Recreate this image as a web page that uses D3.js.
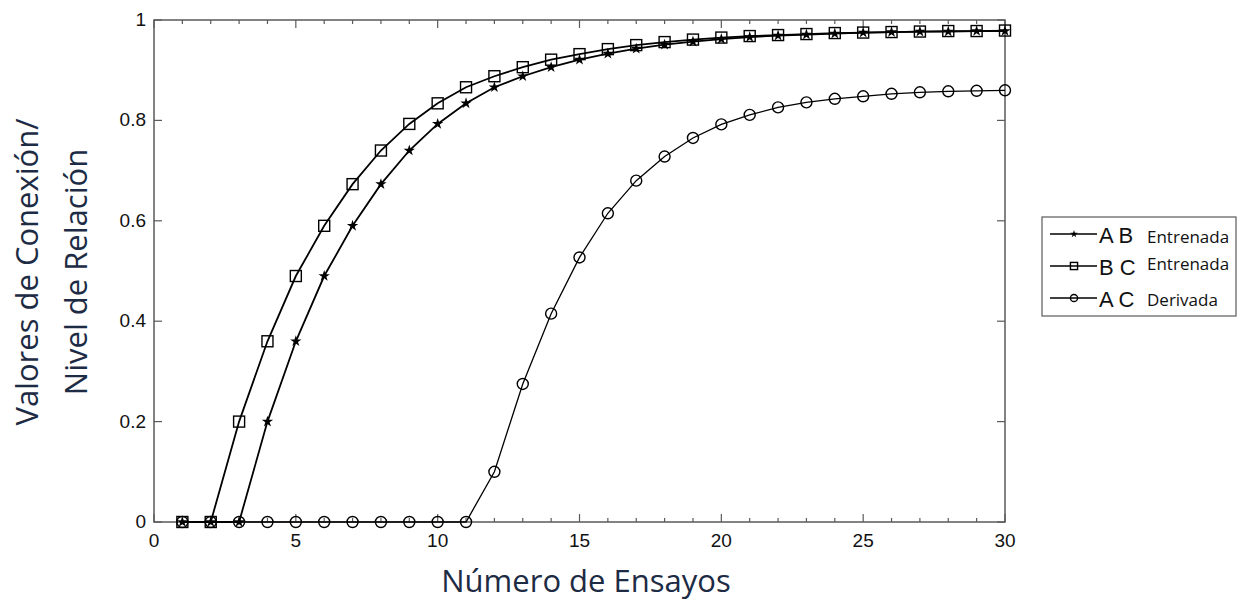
<!DOCTYPE html>
<html>
<head>
<meta charset="utf-8">
<script src="https://cdn.jsdelivr.net/npm/d3@7"></script>
<style>
  body { margin: 0; background: #fff; }
  svg { display: block; }
</style>
</head>
<body>
<div id="chart"></div>
<script>
const trials = d3.range(1, 31);
const ab = [0, 0, 0, 0.2, 0.36, 0.49, 0.59, 0.673, 0.74, 0.793, 0.834, 0.866, 0.888, 0.906, 0.921,
    0.933, 0.943, 0.951, 0.957, 0.962, 0.966, 0.969, 0.971, 0.973, 0.975, 0.976, 0.977, 0.977, 0.978, 0.978];
const bc = [0, 0, 0.2, 0.36, 0.49, 0.59, 0.673, 0.74, 0.793, 0.834, 0.866, 0.888, 0.906, 0.921, 0.932,
    0.942, 0.95, 0.956, 0.961, 0.965, 0.968, 0.97, 0.972, 0.974, 0.975, 0.976, 0.977, 0.978, 0.978, 0.979];
const ac = [0, 0, 0, 0, 0, 0, 0, 0, 0, 0, 0, 0.1, 0.275, 0.415, 0.527, 0.615, 0.68, 0.728, 0.765, 0.792,
    0.811, 0.826, 0.836, 0.843, 0.848, 0.853, 0.856, 0.858, 0.859, 0.86];
const xTicks = [0, 5, 10, 15, 20, 25, 30];
const yTicks = [0, 0.2, 0.4, 0.6, 0.8, 1];
const seriesNames = [['A B', 'Entrenada'], ['B C', 'Entrenada'], ['A C', 'Derivada']];

const svgWidth = 1238;
const svgHeight = 602;
const margin = { top: 20, left: 154, bottom: 80, right: 233 };
const width = svgWidth - margin.left - margin.right;
const height = svgHeight - margin.top - margin.bottom;

const svg = d3
    .select('#chart')
    .append('svg')
    .attr('width', svgWidth)
    .attr('height', svgHeight);

const x = d3.scaleLinear().domain([0, 30]).range([margin.left, margin.left + width]);
const y = d3.scaleLinear().domain([0, 1]).range([margin.top + height, margin.top]);

const axisColor = '#5a5a5a';
const tickFont = '"Liberation Sans", Arial, sans-serif';

// box
svg.append('rect')
    .attr('x', x(0))
    .attr('y', y(1))
    .attr('width', x(30) - x(0))
    .attr('height', y(0) - y(1))
    .attr('fill', 'none')
    .attr('stroke', axisColor)
    .attr('stroke-width', 1.5);

// minor ticks every trial, major every 5 (bottom + top)
const allX = d3.range(0, 31);
['bottom', 'top'].forEach(side => {
    const y0 = side === 'bottom' ? y(0) : y(1);
    const dir = side === 'bottom' ? -1 : 1;
    svg.append('g')
        .selectAll('line')
        .data(allX)
        .enter()
        .append('line')
        .attr('x1', d => x(d))
        .attr('x2', d => x(d))
        .attr('y1', y0)
        .attr('y2', d => y0 + dir * (d % 5 === 0 ? 8 : 4))
        .attr('stroke', axisColor)
        .attr('stroke-width', 1.2);
});

// y ticks left + right
[x(0), x(30)].forEach((x0, i) => {
    const dir = i === 0 ? 1 : -1;
    svg.append('g')
        .selectAll('line')
        .data(yTicks)
        .enter()
        .append('line')
        .attr('x1', x0)
        .attr('x2', x0 + dir * 8)
        .attr('y1', d => y(d))
        .attr('y2', d => y(d))
        .attr('stroke', axisColor)
        .attr('stroke-width', 1.2);
});

svg.append('g')
    .selectAll('text')
    .data(xTicks)
    .enter()
    .append('text')
    .attr('x', d => x(d))
    .attr('y', y(0) + 25)
    .attr('text-anchor', 'middle')
    .attr('font-family', tickFont)
    .attr('font-size', 19)
    .attr('fill', '#111')
    .text(d => d);

svg.append('g')
    .selectAll('text')
    .data(yTicks)
    .enter()
    .append('text')
    .attr('x', x(0) - 8)
    .attr('y', d => y(d) + 6)
    .attr('text-anchor', 'end')
    .attr('font-family', tickFont)
    .attr('font-size', 19)
    .attr('fill', '#111')
    .text(d => d);

// axis labels
const labelFont = '"Open Sans", "Noto Sans", sans-serif';
svg.append('text')
    .attr('x', 586)
    .attr('y', 592)
    .attr('text-anchor', 'middle')
    .attr('font-family', labelFont)
    .attr('font-size', 31)
    .attr('fill', '#1d2b44')
    .text('Número de Ensayos');

const yl = svg.append('text')
    .attr('transform', 'translate(0,272) rotate(-90)')
    .attr('text-anchor', 'middle')
    .attr('font-family', labelFont)
    .attr('font-size', 31)
    .attr('fill', '#1d2b44');
yl.append('tspan').attr('x', 0).attr('y', 38).text('Valores de Conexión/');
yl.append('tspan').attr('x', 0).attr('y', 87).text('Nivel de Relación');

// series
const line = d3.line().x((d, i) => x(trials[i])).y(d => y(d));

const series = [
    { values: ab, width: 1.8, marker: 'star' },
    { values: bc, width: 1.8, marker: 'square' },
    { values: ac, width: 1.3, marker: 'circle' }
];

const drawMarker = (g, type, cx, cy, scale) => {
    if (type === 'square') {
        const s = 11 * scale;
        g.append('rect')
            .attr('x', cx - s / 2).attr('y', cy - s / 2)
            .attr('width', s).attr('height', s)
            .attr('fill', 'none').attr('stroke', '#000').attr('stroke-width', 1.4);
    } else if (type === 'circle') {
        g.append('circle')
            .attr('cx', cx).attr('cy', cy).attr('r', 5.5 * scale)
            .attr('fill', 'none').attr('stroke', '#000').attr('stroke-width', 1.4);
    } else {
        g.append('path')
            .attr('transform', `translate(${cx},${cy})`)
            .attr('d', d3.symbol().type(d3.symbolStar).size(40 * scale * scale)())
            .attr('fill', '#000');
    }
};

series.forEach(s => {
    svg.append('path')
        .datum(s.values)
        .attr('d', line)
        .attr('fill', 'none')
        .attr('stroke', '#000')
        .attr('stroke-width', s.width);
});

series.forEach(s => {
    const g = svg.append('g');
    s.values.forEach((v, i) => drawMarker(g, s.marker, x(trials[i]), y(v), 1));
});

// legend
const lg = svg.append('g');
lg.append('rect')
    .attr('x', 1042).attr('y', 217)
    .attr('width', 194).attr('height', 99)
    .attr('fill', '#fff')
    .attr('stroke', axisColor)
    .attr('stroke-width', 1.2);

const rowY = [234, 266, 298];
const subShift = [0, -5, -1];
series.forEach((s, i) => {
    lg.append('line')
        .attr('x1', 1050).attr('x2', 1097)
        .attr('y1', rowY[i]).attr('y2', rowY[i])
        .attr('stroke', '#000').attr('stroke-width', 1.6);
    drawMarker(lg, s.marker, 1074, rowY[i], 0.65);
    lg.append('text')
        .attr('x', 1099).attr('y', rowY[i] + 9)
        .attr('font-family', tickFont)
        .attr('font-size', 22)
        .attr('fill', '#111')
        .text(seriesNames[i][0]);
    lg.append('text')
        .attr('x', 1147).attr('y', rowY[i] + 9 + subShift[i])
        .attr('font-family', labelFont)
        .attr('font-size', 17)
        .attr('fill', '#111')
        .text(seriesNames[i][1]);
});
</script>
</body>
</html>
